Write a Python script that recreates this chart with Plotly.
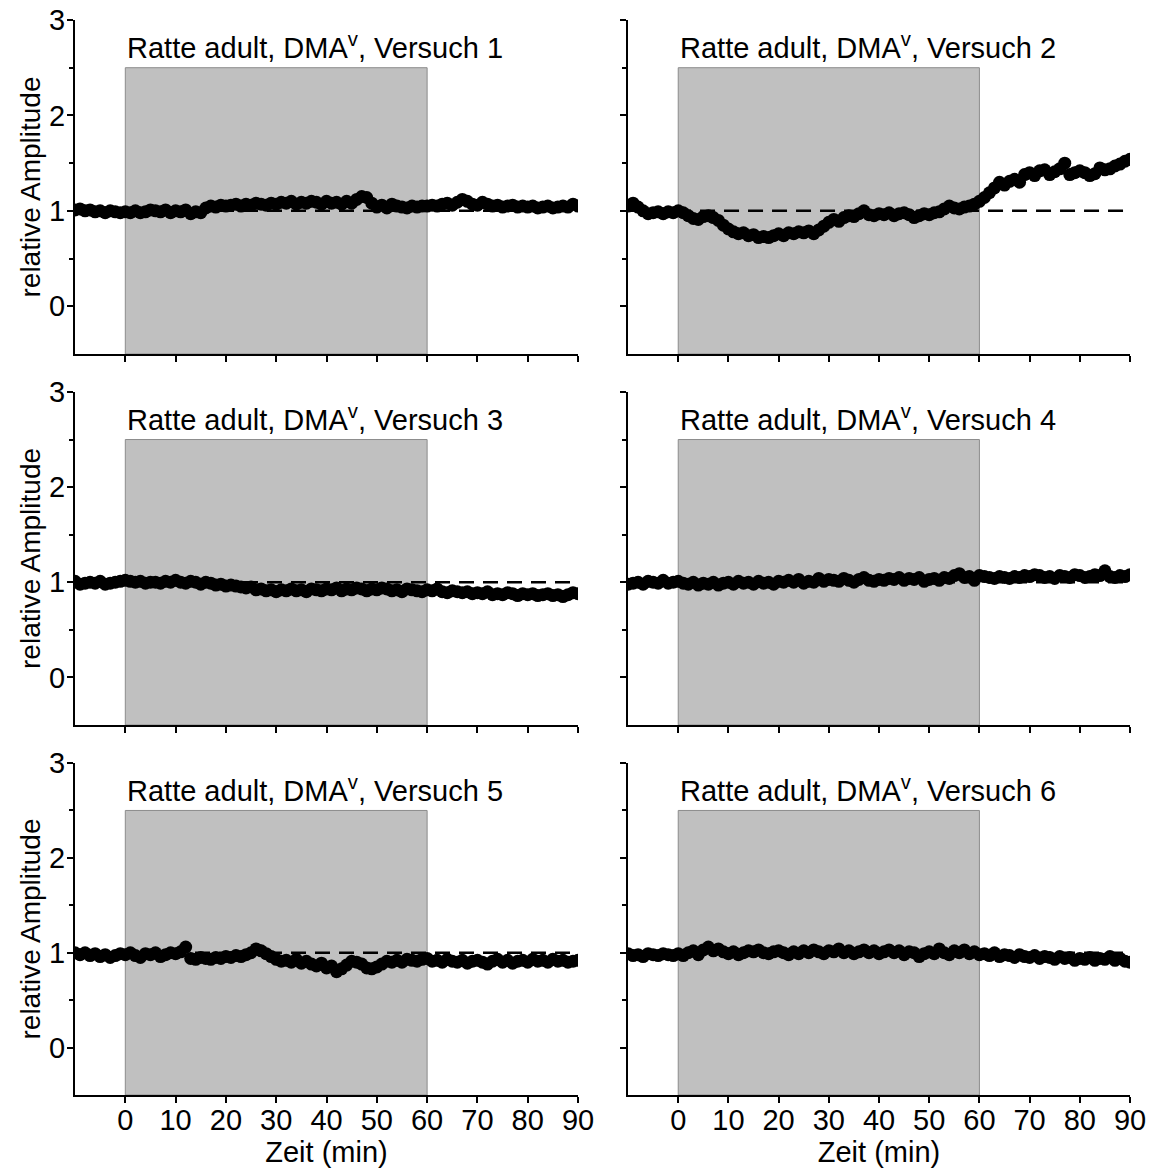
import plotly.graph_objects as go

# ---------------- data ----------------
zeit_min = list(range(-10, 91))  # minutes

versuch_1 = [1.01, 1.02, 1.00, 1.01, 0.99, 1.00, 0.98, 1.00, 0.99, 0.98,
             0.99, 0.98, 1.00, 0.98, 0.99, 1.01, 1.00, 0.99, 1.01, 0.98,
             1.00, 0.99, 1.01, 0.97, 0.99, 0.98, 1.03, 1.05, 1.04, 1.06,
             1.05, 1.06, 1.07, 1.05, 1.07, 1.06, 1.08, 1.07, 1.06, 1.08,
             1.07, 1.09, 1.08, 1.10, 1.07, 1.09, 1.08, 1.10, 1.09, 1.07,
             1.10, 1.08, 1.09, 1.07, 1.10, 1.08, 1.12, 1.15, 1.14, 1.08,
             1.04, 1.06, 1.03, 1.07, 1.05, 1.04, 1.03, 1.05, 1.04, 1.05,
             1.05, 1.06, 1.05, 1.07, 1.08, 1.06, 1.09, 1.12, 1.10, 1.07,
             1.06, 1.09, 1.07, 1.05, 1.06, 1.04, 1.05, 1.06, 1.04, 1.05,
             1.04, 1.05, 1.03, 1.04, 1.05, 1.03, 1.04, 1.05, 1.04, 1.07, 1.05]

versuch_2 = [1.05, 1.08, 1.04, 1.00, 0.97, 0.98, 0.99, 0.97, 0.99, 0.98,
             1.00, 0.98, 0.95, 0.92, 0.91, 0.94, 0.95, 0.93, 0.90, 0.85,
             0.81, 0.78, 0.76, 0.77, 0.74, 0.75, 0.72, 0.73, 0.72, 0.74,
             0.76, 0.74, 0.77, 0.76, 0.78, 0.77, 0.79, 0.76, 0.80, 0.84,
             0.88, 0.91, 0.89, 0.93, 0.95, 0.94, 0.97, 1.00, 0.96, 0.95,
             0.97, 0.96, 0.98, 0.95, 0.97, 0.98, 0.96, 0.93, 0.95, 0.97,
             0.96, 0.98, 0.99, 1.02, 1.05, 1.03, 1.02, 1.04, 1.05, 1.07,
             1.10, 1.14, 1.19, 1.24, 1.30, 1.27, 1.31, 1.33, 1.30, 1.38,
             1.40, 1.37, 1.42, 1.43, 1.38, 1.41, 1.44, 1.50, 1.38, 1.40,
             1.42, 1.40, 1.37, 1.39, 1.45, 1.43, 1.44, 1.47, 1.49, 1.52, 1.54]

versuch_3 = [1.01, 0.98, 0.99, 1.00, 0.99, 1.01, 0.98, 0.99, 1.00, 1.01,
             1.02, 1.01, 1.00, 1.01, 0.99, 1.00, 1.00, 0.99, 1.01, 1.00,
             1.02, 1.00, 0.99, 1.01, 1.00, 0.98, 1.00, 0.99, 0.97, 0.98,
             0.96, 0.97, 0.96, 0.95, 0.94, 0.95, 0.92, 0.93, 0.91, 0.92,
             0.90, 0.92, 0.91, 0.93, 0.91, 0.92, 0.90, 0.93, 0.92, 0.91,
             0.93, 0.92, 0.94, 0.91, 0.93, 0.92, 0.94, 0.93, 0.91, 0.93,
             0.92, 0.94, 0.93, 0.91, 0.92, 0.90, 0.93, 0.92, 0.91, 0.90,
             0.92, 0.91, 0.93, 0.90, 0.89, 0.91, 0.90, 0.89, 0.90, 0.88,
             0.89, 0.88, 0.90, 0.87, 0.88, 0.87, 0.89, 0.88, 0.86, 0.88,
             0.87, 0.88, 0.86, 0.87, 0.88, 0.86, 0.87, 0.85, 0.87, 0.89, 0.88]

versuch_4 = [0.98, 0.99, 1.00, 0.98, 1.01, 1.00, 0.99, 1.02, 0.99, 1.00,
             1.01, 0.99, 0.98, 1.00, 0.97, 0.99, 0.98, 1.00, 0.97, 0.99,
             1.00, 0.98, 1.01, 0.99, 1.00, 0.98, 1.01, 0.99, 1.00, 0.98,
             1.01, 1.00, 1.02, 1.00, 1.03, 0.99, 1.01, 1.00, 1.04, 1.01,
             1.03, 1.02, 1.01, 1.04, 1.02, 1.00, 1.03, 1.05, 1.02, 1.01,
             1.03, 1.02, 1.04, 1.03, 1.05, 1.02, 1.04, 1.03, 1.05, 1.01,
             1.03, 1.04, 1.02, 1.05, 1.04, 1.07, 1.09, 1.05, 1.06, 1.02,
             1.07, 1.06, 1.05, 1.04, 1.06, 1.05, 1.04, 1.06, 1.05, 1.07,
             1.06, 1.08, 1.07, 1.05, 1.06, 1.04, 1.07, 1.06, 1.05, 1.08,
             1.07, 1.05, 1.06, 1.08, 1.07, 1.12, 1.06, 1.05, 1.07, 1.06, 1.08]

versuch_5 = [1.00, 0.98, 1.00, 0.97, 0.99, 0.96, 0.98, 0.95, 0.97, 0.99,
             0.98, 1.00, 0.97, 0.95, 0.99, 0.98, 1.00, 0.96, 0.98, 1.00,
             0.99, 1.01, 1.06, 0.94, 0.93, 0.95, 0.94, 0.93, 0.95, 0.94,
             0.96, 0.95, 0.97, 0.96, 0.98, 1.00, 1.04, 1.02, 0.99, 0.96,
             0.93, 0.91, 0.92, 0.90, 0.93, 0.89, 0.91, 0.88, 0.86, 0.89,
             0.84, 0.86, 0.80, 0.83, 0.87, 0.91, 0.90, 0.88, 0.84, 0.83,
             0.85, 0.88, 0.91, 0.90, 0.92, 0.90, 0.93, 0.92, 0.91, 0.93,
             0.94, 0.91, 0.92, 0.90, 0.93, 0.91, 0.90, 0.92, 0.89, 0.91,
             0.92, 0.90, 0.88, 0.91, 0.93, 0.90, 0.92, 0.89, 0.91, 0.92,
             0.90, 0.93, 0.91, 0.92, 0.90, 0.93, 0.91, 0.92, 0.90, 0.91, 0.92]

versuch_6 = [0.99, 0.97, 0.98, 0.96, 0.99, 0.98, 0.97, 0.99, 0.98, 0.97,
             0.99, 0.97, 1.00, 1.02, 0.98, 1.03, 1.06, 1.02, 1.04, 1.01,
             0.99, 1.01, 0.98, 1.00, 1.02, 1.01, 1.03, 1.00, 0.99, 1.01,
             1.02, 1.00, 0.98, 1.01, 0.99, 1.02, 1.00, 1.03, 1.01, 0.99,
             1.02, 1.01, 1.04, 1.00, 1.02, 0.99, 1.01, 1.03, 1.00, 1.02,
             0.99, 1.01, 1.03, 1.00, 1.02, 0.98, 1.01, 1.00, 0.96, 0.99,
             1.01, 0.99, 1.04, 1.00, 0.98, 1.02, 1.00, 1.03, 0.99, 1.01,
             0.98, 0.99, 0.97, 1.00, 0.96, 0.98, 0.97, 0.95, 0.98, 0.96,
             0.95, 0.97, 0.94, 0.96, 0.95, 0.93, 0.96, 0.94, 0.95, 0.92,
             0.94, 0.93, 0.95, 0.92, 0.94, 0.93, 0.96, 0.92, 0.94, 0.91, 0.90]

series = [versuch_1, versuch_2, versuch_3, versuch_4, versuch_5, versuch_6]
titles = ["Ratte adult, DMA<sup>v</sup>, Versuch %d" % i for i in range(1, 7)]

x_range = [-10, 90]
y_range = [-0.5, 3]
x_ticks = [0, 10, 20, 30, 40, 50, 60, 70, 80, 90]
y_ticks = [0, 1, 2, 3]
stim_start, stim_end, stim_top = 0, 60, 2.5
baseline = 1

# ---------------- layout ----------------
FONT = "Liberation Sans, Arial, sans-serif"
x_domains = [[0.0, 0.4768], [0.5242, 1.0]]
y_domains = [[0.6893, 1.0], [0.3442, 0.654], [0.0, 0.3088]]

fig = go.Figure()
layout = dict(
    width=1146, height=1161,
    margin=dict(l=67, r=24, t=12, b=74),
    paper_bgcolor="white", plot_bgcolor="white",
    showlegend=False,
    font=dict(family=FONT, color="black", size=29),
)
shapes = []
annotations = []

for i, vals in enumerate(series):
    row, col = divmod(i, 2)
    n = i + 1
    xa = "x" if n == 1 else "x%d" % n
    ya = "y" if n == 1 else "y%d" % n
    xkey = "xaxis" if n == 1 else "xaxis%d" % n
    ykey = "yaxis" if n == 1 else "yaxis%d" % n

    fig.add_trace(go.Scatter(
        x=zeit_min, y=vals, xaxis=xa, yaxis=ya, mode="markers",
        marker=dict(color="black", size=13, line=dict(width=0)),
        hoverinfo="skip"))

    layout[xkey] = dict(
        domain=x_domains[col], anchor=ya, range=x_range, automargin=False,
        showline=True, linecolor="black", linewidth=2,
        ticks="outside", ticklen=6, tickwidth=2, tickcolor="black",
        tickvals=x_ticks, showticklabels=(row == 2), ticklabelstandoff=-8,
        ticklabeloverflow="allow",
        tickfont=dict(size=29, family=FONT), showgrid=False, zeroline=False,
        title=dict(text="Zeit (min)" if row == 2 else "",
                   font=dict(size=29, family=FONT), standoff=0),
    )
    layout[ykey] = dict(
        domain=y_domains[row], anchor=xa, range=y_range, automargin=False,
        showline=True, linecolor="black", linewidth=2,
        ticks="outside", ticklen=6, tickwidth=2, tickcolor="black",
        tickvals=y_ticks, showticklabels=(col == 0), ticklabelstandoff=-4,
        ticklabeloverflow="allow",
        tickfont=dict(size=29, family=FONT), showgrid=False, zeroline=False,
        minor=dict(tickvals=[0.5, 1.5, 2.5], ticks="outside", ticklen=4,
                   tickwidth=2, tickcolor="black", showgrid=False),
        title=dict(text="relative Amplitude" if col == 0 else "",
                   font=dict(size=28, family=FONT), standoff=0),
    )

    shapes.append(dict(type="rect", xref=xa, yref=ya, layer="below",
                       x0=stim_start, x1=stim_end, y0=y_range[0], y1=stim_top,
                       fillcolor="#c0c0c0", line=dict(color="#8c8c8c", width=1)))
    shapes.append(dict(type="line", xref=xa, yref=ya, layer="below",
                       x0=x_range[0], x1=x_range[1], y0=baseline, y1=baseline,
                       line=dict(color="black", width=2.5, dash="15px,9px")))
    annotations.append(dict(text=titles[i], xref=xa, yref=ya, x=stim_start, y=2.73,
                            xanchor="left", yanchor="middle", showarrow=False,
                            font=dict(size=29, family=FONT, color="black")))

layout["shapes"] = shapes
layout["annotations"] = annotations
fig.update_layout(**layout)

fig.write_html("out.html")
